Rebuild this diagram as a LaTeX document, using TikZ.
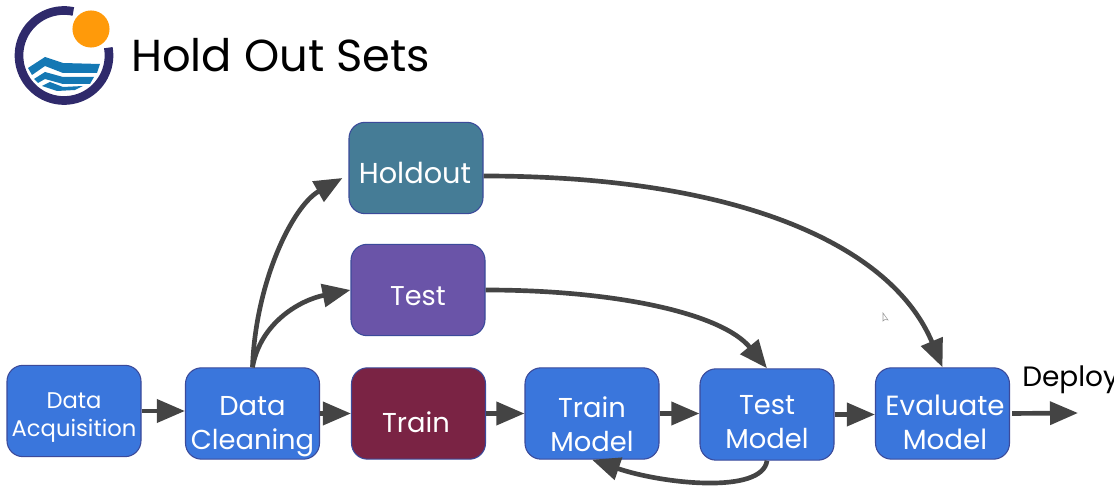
\documentclass[tikz,border=0pt]{standalone}
\usepackage{fontspec}
\setmainfont{Poppins}
\usetikzlibrary{arrows.meta}
\definecolor{boxblue}{HTML}{3A76DC}
\definecolor{boxedge}{HTML}{3B4A9A}
\definecolor{holdteal}{HTML}{457C96}
\definecolor{testpurple}{HTML}{6A54A8}
\definecolor{trainred}{HTML}{7A2344}
\definecolor{arrowgray}{HTML}{444444}
\definecolor{ringnavy}{HTML}{2F2A6B}
\definecolor{sunorange}{HTML}{FF9A0A}
\definecolor{wave}{HTML}{1478B4}
\newcommand{\boxtext}[4]{\raisebox{-#1pt}[0pt][0pt]{\fontsize{#2}{#3}\selectfont\begin{tabular}{@{}c@{}}#4\end{tabular}}}
\tikzset{
  x=0.75pt,y=-0.75pt,
  stepbox/.style={draw=boxedge,line width=0.8pt,rounded corners=12pt,minimum width=100.5pt,minimum height=68.5pt,inner sep=0pt,text=white,fill=boxblue},
  flow/.style={draw=arrowgray,line width=3.5pt,-{Triangle[length=21pt,width=17pt]}},
}
\begin{document}
\begin{tikzpicture}
\useasboundingbox (0,0) rectangle (1114,498);
\clip (0,0) rectangle (1114,498);
% logo
\draw[ringnavy,line width=6.5pt] plot[domain=78:370,samples=70] ({64+45*cos(\x)},{55.5-45*sin(\x)});
\fill[sunorange] (91,29) circle[radius=13.9pt];
\fill[wave] (28,68)--(45,57)--(63,63)--(100,64)--(97,73)--(63,73)--(45,66)--(32,75)--cycle;
\fill[wave] (34,79)--(45,72)--(63,77)--(94,77)--(90,84)--(63,84)--(45,79)--(38,83)--cycle;
\fill[wave] (42,86)--(50,82)--(63,87)--(83,86)--(75,90)--(57,91)--cycle;
% title
\node[anchor=base west,inner sep=0pt,text=black] (title) at (131,72) {\fontsize{33.6}{38}\selectfont Hold Out Sets};
% boxes
\node[stepbox] (acq) at (74,411) {\boxtext{8.5}{17}{21}{Data\\Acquisition}};
\node[stepbox] (clean) at (252.5,413.5) {\boxtext{14}{20.5}{25.5}{Data\\Cleaning}};
\node[stepbox,fill=trainred] (train) at (418.5,413.5) {\boxtext{14.5}{20.5}{25}{\hspace*{-3.8pt}Train}};
\node[stepbox] (tmodel) at (592,413.5) {\boxtext{15.5}{20.5}{25.5}{Train\\Model}};
\node[stepbox] (temodel) at (767,414.5) {\boxtext{13}{20.5}{25.5}{Test\\Model}};
\node[stepbox] (eval) at (942.5,413.5) {\boxtext{14}{20.8}{25.5}{\hspace*{3.8pt}Evaluate\\\hspace*{3.8pt}Model}};
\node[stepbox,fill=holdteal] (hold) at (416,168) {\boxtext{11.5}{21.6}{25}{\hspace*{-1.5pt}Holdout}};
\node[stepbox,fill=testpurple] (test) at (418,290) {\boxtext{12}{20.4}{25}{Test}};
\node[anchor=base west,inner sep=0pt,text=black] (deploy) at (1022,387) {\fontsize{21}{24}\selectfont Deploy};
\coordinate (out) at (1078,413);
% connectors
\draw[flow] (acq.east) -- (clean.west |- acq.east);
\draw[flow] (clean.east) -- (train.west);
\draw[flow] (train.east) -- (tmodel.west);
\draw[flow] (tmodel.east) -- (temodel.west |- tmodel.east);
\draw[flow] (temodel.east) -- (eval.west |- temodel.east);
\draw[flow,shorten <=1.5pt] (eval.east) -- (out);
\draw[flow] (clean.north) .. controls +(3,-85) and +(-50,28) .. ([xshift=-4.5pt]hold.west |- 0,178);
\draw[flow] (clean.north) .. controls +(8,-45) and +(-50,10) .. (test.west);
\draw[flow] (hold.east |- 0,176) .. controls +(260,0) and +(-50,-120) .. (eval.north);
\draw[flow] (test.east) .. controls +(130,0) and +(-45,-55) .. (temodel.north);
\draw[flow] (temodel.south) .. controls +(-5,34) and +(70,24) .. (tmodel.south);
% pointer
\draw[gray!80,line width=0.4pt,fill=white] (883,313)--(883,321)--(885,319.5)--(888,320)--cycle;
\end{tikzpicture}
\end{document}
